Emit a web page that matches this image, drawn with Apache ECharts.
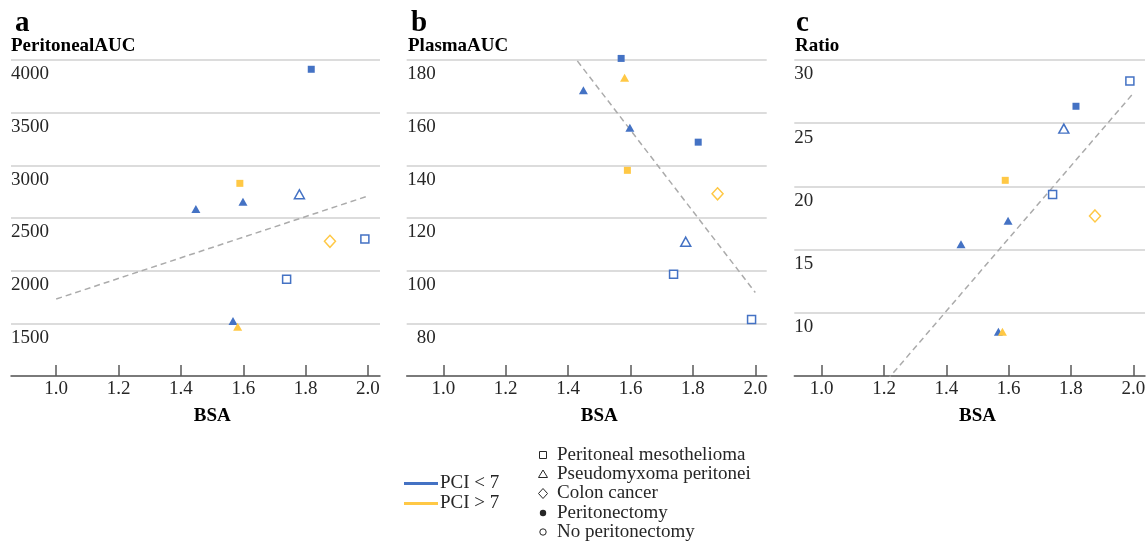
<!DOCTYPE html>
<html>
<head>
<meta charset="utf-8">
<script src="https://cdn.jsdelivr.net/npm/echarts@6/dist/echarts.min.js"></script>
<style>
html,body{margin:0;padding:0;background:#fff;}
#chart{width:1148px;height:545px;}
</style>
</head>
<body>
<div id="chart"></div>
<script>
// ---- data ----
// marker code: disease-PCI-surgery  (PM = peritoneal mesothelioma, PMP = pseudomyxoma peritonei, CC = colon cancer;
// lo = PCI < 7, hi = PCI > 7; P = peritonectomy, N = no peritonectomy)
const bsaA = [1.818, 1.589, 1.780, 1.448, 1.599, 1.878, 1.990, 1.739, 1.567, 1.582];
const peritonealAUC = [3912, 2829, 2725, 2585, 2655, 2279, 2301, 1918, 1522, 1468];
const markerA = ['PM-lo-P','PM-hi-P','PMP-lo-N','PMP-lo-P','PMP-lo-P','CC-hi-N','PM-lo-N','PM-lo-N','PMP-lo-P','PMP-hi-P'];

const bsaB = [1.570, 1.581, 1.449, 1.598, 1.817, 1.590, 1.879, 1.777, 1.738, 1.988];
const plasmaAUC = [180.6, 173.3, 168.5, 154.3, 148.8, 138.1, 129.2, 111.0, 98.6, 81.5];
const markerB = ['PM-lo-P','PMP-hi-P','PMP-lo-P','PMP-lo-P','PM-lo-P','PM-hi-P','CC-hi-N','PMP-lo-N','PM-lo-N','PM-lo-N'];

const bsaC = [1.989, 1.816, 1.777, 1.589, 1.741, 1.877, 1.598, 1.447, 1.567, 1.580];
const ratio = [28.34, 26.34, 24.57, 20.48, 19.35, 17.66, 17.29, 15.42, 8.51, 8.51];
const markerC = ['PM-lo-N','PM-lo-P','PMP-lo-N','PM-hi-P','PM-lo-N','CC-hi-N','PMP-lo-P','PMP-lo-P','PMP-lo-P','PMP-hi-P'];

// dashed trend lines (value at BSA 1.0 and 2.0)
const trendBSA = [1.0, 2.0];
const trendA = [1731, 2709];
const trendB = [245.9, 91.7];
const trendC = [-1.35, 27.37];

const xTicks = [1.0, 1.2, 1.4, 1.6, 1.8, 2.0];
const panelLetters = ['a', 'b', 'c'];
const yTitles = ['PeritonealAUC', 'PlasmaAUC', 'Ratio'];
const xTitle = 'BSA';
const pciLegend = ['PCI < 7', 'PCI > 7'];
const shapeLegend = ['Peritoneal mesothelioma', 'Pseudomyxoma peritonei', 'Colon cancer', 'Peritonectomy', 'No peritonectomy'];

// ---- styling ----
const BLUE = '#4472C4';
const GOLD = '#FFC845';
const FONT = '"Liberation Serif", "DejaVu Serif", serif';
const TXT = '#262626';

function pointStyle(code) {
  const [dis, pci, surg] = code.split('-');
  const col = pci === 'lo' ? BLUE : GOLD;
  const filled = surg === 'P';
  let symbol = 'rect', size = filled ? 7 : 8;
  if (dis === 'PMP') { symbol = 'triangle'; size = filled ? [9, 8] : [10, 9]; }
  if (dis === 'CC') { symbol = 'diamond'; size = [11, 12]; }
  return {
    symbol, symbolSize: size,
    itemStyle: filled ? { color: col, borderWidth: 0, opacity: 1 } : { color: '#ffffff', borderColor: col, borderWidth: 1.5, opacity: 1 }
  };
}
function points(xs, ys, codes) {
  return xs.map((x, i) => Object.assign({ value: [x, ys[i]] }, pointStyle(codes[i])));
}

const grids = [
  { left: 11, width: 369, top: 60, height: 316 },
  { left: 406.7, width: 360, top: 60, height: 316 },
  { left: 794.3, width: 350.7, top: 60, height: 316 }
];
const xRanges = [[0.855, 2.0385], [0.8827, 2.0365], [0.912, 2.0375]];
const yRanges = [[1000, 4000, 500], [60, 180, 20], [5, 30, 5]];
const labelMargins = [38, 29, 19];

const xAxes = grids.map((g, i) => ({
  type: 'value', gridIndex: i, min: xRanges[i][0], max: xRanges[i][1],
  axisLine: { show: true, onZero: false, lineStyle: { color: '#595959', width: 1.5 } },
  axisTick: { show: true, inside: true, length: 11, customValues: xTicks, lineStyle: { color: '#595959', width: 1.5 } },
  axisLabel: { customValues: xTicks, formatter: v => Number(v).toFixed(1), fontFamily: FONT, fontSize: 19, color: TXT, margin: 4, hideOverlap: false },
  splitLine: { show: false }
}));
const yAxes = grids.map((g, i) => ({
  type: 'value', gridIndex: i, min: yRanges[i][0], max: yRanges[i][1], interval: yRanges[i][2],
  axisLine: { show: false }, axisTick: { show: false },
  splitLine: { show: true, lineStyle: { color: '#d0d0d0', width: 1.5 } },
  axisLabel: { inside: true, align: 'right', verticalAlign: 'top', margin: labelMargins[i], padding: [5, 0, 0, 0],
    formatter: v => String(v),
    showMinLabel: false, fontFamily: FONT, fontSize: 19, color: TXT, hideOverlap: false }
}));

const trendStyle = { color: '#ababab', width: 1.5, type: [6, 4] };
const trends = [trendA, trendB, trendC];
const series = [];
[[bsaA, peritonealAUC, markerA], [bsaB, plasmaAUC, markerB], [bsaC, ratio, markerC]].forEach((d, i) => {
  series.push({
    type: 'line', xAxisIndex: i, yAxisIndex: i, clip: true, symbol: 'none', silent: true,
    lineStyle: trendStyle, data: trendBSA.map((x, k) => [x, trends[i][k]]), z: 2
  });
  series.push({
    type: 'scatter', xAxisIndex: i, yAxisIndex: i, clip: false, z: 3,
    itemStyle: { opacity: 1 },
    data: points(d[0], d[1], d[2])
  });
});

// ---- text / legend graphics ----
const graphic = [];
const letterX = [15, 411, 796];
const titleX = [11, 408, 795];
const bsaX = [212.2, 599.3, 977.5];
for (let i = 0; i < 3; i++) {
  graphic.push({ type: 'text', x: letterX[i], y: 24, style: { text: panelLetters[i], font: 'bold 29px ' + FONT, fill: '#000', verticalAlign: 'middle' } });
  graphic.push({ type: 'text', x: titleX[i], y: 46, style: { text: yTitles[i], font: 'bold 19px ' + FONT, fill: '#000', verticalAlign: 'middle' } });
  graphic.push({ type: 'text', x: bsaX[i], y: 416, style: { text: xTitle, font: 'bold 19px ' + FONT, fill: '#000', align: 'center', verticalAlign: 'middle' } });
}
// PCI legend
[BLUE, GOLD].forEach((c, k) => {
  const y = 483.5 + k * 20;
  graphic.push({ type: 'rect', shape: { x: 404, y: y - 1.5, width: 34, height: 3 }, style: { fill: c } });
  graphic.push({ type: 'text', x: 440, y: y, style: { text: pciLegend[k], font: '19px ' + FONT, fill: TXT, verticalAlign: 'middle' } });
});
// shape legend
const rowY = [455, 474, 493.5, 513, 532];
const sx = 543;
const sym = { stroke: '#262626', lineWidth: 1, fill: '#fff' };
graphic.push({ type: 'rect', shape: { x: sx - 3.5, y: rowY[0] - 3.5, width: 7, height: 7 }, style: sym });
graphic.push({ type: 'polygon', shape: { points: [[sx, rowY[1] - 4], [sx + 4.5, rowY[1] + 3.5], [sx - 4.5, rowY[1] + 3.5]] }, style: sym });
graphic.push({ type: 'polygon', shape: { points: [[sx, rowY[2] - 5], [sx + 4.5, rowY[2]], [sx, rowY[2] + 5], [sx - 4.5, rowY[2]]] }, style: sym });
graphic.push({ type: 'circle', shape: { cx: sx, cy: rowY[3], r: 3.2 }, style: { fill: '#262626' } });
graphic.push({ type: 'circle', shape: { cx: sx, cy: rowY[4], r: 3.2 }, style: sym });
shapeLegend.forEach((t, k) => {
  graphic.push({ type: 'text', x: 557, y: rowY[k], style: { text: t, font: '19px ' + FONT, fill: TXT, verticalAlign: 'middle' } });
});

const chart = echarts.init(document.getElementById('chart'), null, { renderer: 'canvas' });
chart.setOption({
  animation: false,
  backgroundColor: '#ffffff',
  textStyle: { fontFamily: FONT },
  grid: grids.map(g => Object.assign({ outerBoundsMode: 'none', containLabel: false }, g)),
  xAxis: xAxes,
  yAxis: yAxes,
  series: series,
  graphic: graphic
});
</script>
</body>
</html>
